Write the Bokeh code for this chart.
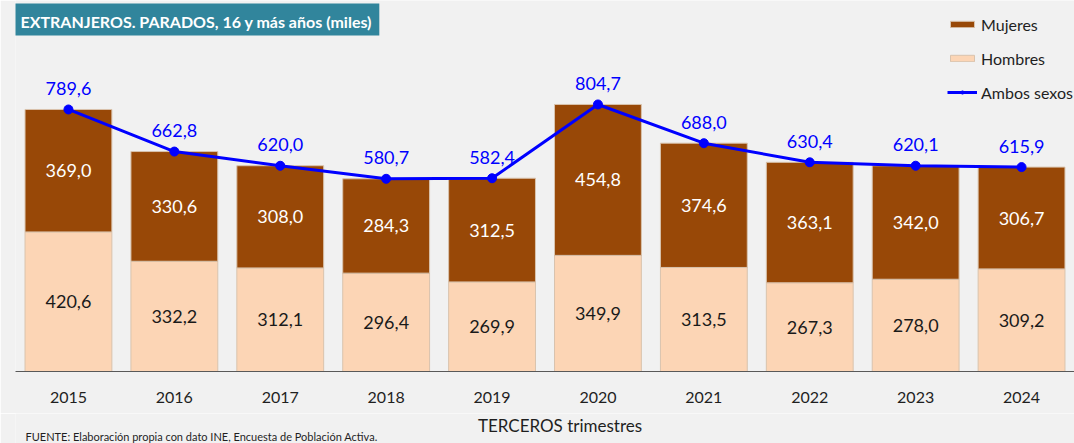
from bokeh.plotting import figure
from bokeh.layouts import column
from bokeh.models import ColumnDataSource, FactorRange, Range1d, Legend, LegendItem, Label
from bokeh.core.properties import value
from bokeh.embed import file_html
from bokeh.resources import INLINE

years = ["2015", "2016", "2017", "2018", "2019", "2020", "2021", "2022", "2023", "2024"]
hombres = [420.6, 332.2, 312.1, 296.4, 269.9, 349.9, 313.5, 267.3, 278.0, 309.2]
mujeres = [369.0, 330.6, 308.0, 284.3, 312.5, 454.8, 374.6, 363.1, 342.0, 306.7]
ambos = [789.6, 662.8, 620.0, 580.7, 582.4, 804.7, 688.0, 630.4, 620.1, 615.9]

FONT = "Lato"
BG = "#f1f1f1"
C_MUJ = "#984807"
C_HOM = "#FCD5B5"
C_AMB = "#0000FF"

def fmt(v):
    return f"{v:.1f}".replace(".", ",")

W = 1074
FOOT_H = 30
H = 443 - FOOT_H
FRAME_H = 371
p = figure(width=W, height=H,
           x_range=FactorRange(*years, range_padding=0),
           y_range=Range1d(0, 1118),
           output_backend="svg", toolbar_location=None,
           min_border_left=15, min_border_right=0, min_border_top=0,
           min_border_bottom=H - FRAME_H)
p.background_fill_color = BG
p.border_fill_color = BG
p.outline_line_color = None
p.xgrid.visible = False
p.ygrid.visible = False
p.yaxis.visible = False

xa = p.xaxis[0]
xa.axis_line_color = "#595959"
xa.axis_line_width = 1
xa.major_tick_line_color = None
xa.minor_tick_line_color = None
xa.major_label_standoff = 14
xa.major_label_text_font = FONT
xa.major_label_text_font_size = "16px"
xa.major_label_text_color = "#1f1f1f"

src = ColumnDataSource(dict(years=years, hombres=hombres, mujeres=mujeres))
bars = p.vbar_stack(["hombres", "mujeres"], x="years", width=0.82,
                    fill_color=[C_HOM, C_MUJ], line_color="#d9c3ad", line_width=1,
                    source=src)

line_r = p.line(x=years, y=ambos, line_color=C_AMB, line_width=3)
dot_r = p.scatter(x=years, y=ambos, size=9, fill_color=C_AMB, line_color=C_AMB)

hom_lab = ColumnDataSource(dict(x=years, y=[h / 2 for h in hombres], t=[fmt(v) for v in hombres]))
muj_lab = ColumnDataSource(dict(x=years, y=[h + m / 2 for h, m in zip(hombres, mujeres)], t=[fmt(v) for v in mujeres]))
amb_lab = ColumnDataSource(dict(x=years, y=ambos, t=[fmt(v) for v in ambos]))

p.text(x="x", y="y", text="t", source=hom_lab, text_color="#1a1a1a",
       text_font=value(FONT), text_font_size="18px", text_align="center", text_baseline="middle")
p.text(x="x", y="y", text="t", source=muj_lab, text_color="#ffffff",
       text_font=value(FONT), text_font_size="18px", text_align="center", text_baseline="middle")
p.text(x="x", y="y", text="t", source=amb_lab, text_color=C_AMB, y_offset=-21,
       text_font=value(FONT), text_font_size="18px", text_align="center", text_baseline="middle")

legend = Legend(items=[
    LegendItem(label="Mujeres", renderers=[bars[1]]),
    LegendItem(label="Hombres", renderers=[bars[0]]),
    LegendItem(label="Ambos sexos", renderers=[line_r, dot_r]),
], location=(932, 269))
legend.background_fill_alpha = 0
legend.border_line_color = None
legend.glyph_width = 30
legend.glyph_height = 8
legend.label_height = 20
legend.label_standoff = 4
legend.spacing = 14
legend.padding = 0
legend.margin = 0
legend.label_text_font = FONT
legend.label_text_font_size = "16px"
legend.label_text_color = "#1f1f1f"
p.add_layout(legend)

title = Label(x=-2, y=FRAME_H - 3, x_units="screen", y_units="screen",
              text="EXTRANJEROS. PARADOS, 16 y más años (miles)",
              text_font=FONT, text_font_style="bold", text_font_size="16px",
              text_color="white", text_baseline="top", text_align="left",
              background_fill_color="#31859C", padding=(7, 7, 8, 5))
p.add_layout(title)

# bottom strip: axis title and source note
f = figure(width=W, height=FOOT_H, x_range=Range1d(0, W), y_range=Range1d(0, FOOT_H),
           output_backend="svg", toolbar_location=None,
           min_border=0, min_border_left=0, min_border_right=0,
           min_border_top=0, min_border_bottom=0)
f.background_fill_color = BG
f.border_fill_color = BG
f.outline_line_color = None
f.axis.visible = False
f.grid.visible = False
axis_title = Label(x=15 + (W - 15) / 2, y=FOOT_H - 12, x_units="screen", y_units="screen",
                   text="TERCEROS trimestres",
                   text_font=FONT, text_font_size="17px", text_color="#1f1f1f",
                   text_baseline="middle", text_align="center")
f.add_layout(axis_title)
footer = Label(x=10, y=7, x_units="screen", y_units="screen",
               text="FUENTE: Elaboración propia con dato INE, Encuesta de Población Activa.",
               text_font=FONT, text_font_size="11px", text_color="#1f1f1f",
               text_baseline="middle", text_align="left")
f.add_layout(footer)

layout = column(p, f, spacing=0)
open("out.html", "w").write(file_html(layout, INLINE))
